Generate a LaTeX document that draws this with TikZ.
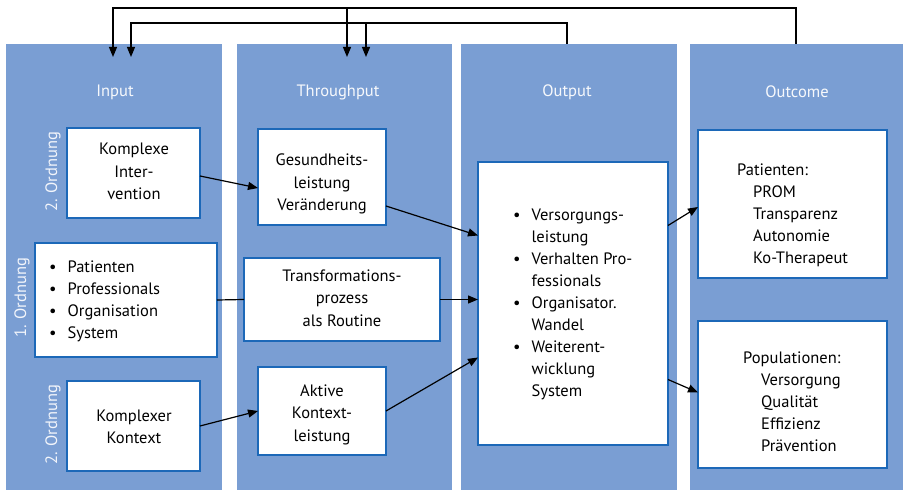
\documentclass[tikz,border=0pt]{standalone}
\usepackage{fontspec}
\setmainfont{PT Sans}
\usetikzlibrary{arrows.meta,fit}
\definecolor{colblue}{RGB}{122,158,211}
\definecolor{boxblue}{RGB}{28,104,184}
\newcommand\fs{\fontsize{16.5}{22.5}\selectfont}
\newcommand\fsl{\fontsize{16.5}{22}\selectfont}
\begin{document}
\begin{tikzpicture}[x=1pt,y=-1pt,
  col/.style={fill=colblue, draw=none, inner sep=0, outer sep=0},
  box/.style={fill=white, draw=boxblue, line width=2.2pt, inner sep=0, outer sep=0},
  ctxt/.style={inner sep=0, font=\fs},
  txt/.style={inner sep=0, font=\fsl},
  hdr/.style={text=white!94!colblue, font=\fs, inner sep=0},
  vlab/.style={text=white!90!colblue, font=\fs, rotate=90, inner sep=0},
  line/.style={line width=1.2pt, black},
  arr/.style={line width=1.2pt, black, -{Triangle[length=10pt,width=8pt]}}]
\useasboundingbox (0,0) rectangle (903,492);
% columns
\node[col, fit={(6,44) (222,490)}] (cin) {};
\node[col, fit={(237,44) (452,490)}] (cth) {};
\node[col, fit={(461,44) (677,490)}] (cout) {};
\node[col, fit={(690,44) (903,490)}] (coc) {};
% headers
\node[hdr] (hin) at (115,92) {Input};
\node[hdr] (hth) at (338,92) {Throughput};
\node[hdr] (hout) at (567,92) {Output};
\node[hdr] (hoc) at (797,92) {Outcome};
% vertical labels
\node[vlab] (v1) at (53,172) {2. Ordnung};
\node[vlab] (v2) at (22,298) {1. Ordnung};
\node[vlab] (v3) at (53,425) {2. Ordnung};
% input boxes
\node[box, fit={(67,128) (200,218)}] (ki) {};
\node[ctxt] (kit) at (134,173) {\begin{tabular}{@{}c@{}}Komplexe\\Inter-\\vention\end{tabular}};
\node[box, fit={(35,243) (217,357)}] (pl) {};
\node[txt, anchor=west] (plt) at (49,301) {\begin{tabular}{@{}l@{\hspace{11pt}}l@{}}\textbullet & Patienten\\ \textbullet & Professionals\\ \textbullet & Organisation\\ \textbullet & System\end{tabular}};
\node[box, fit={(67,381) (200,471)}] (kk) {};
\node[ctxt] (kkt) at (134,428) {\begin{tabular}{@{}c@{}}Komplexer\\Kontext\end{tabular}};
% throughput boxes
\node[box, fit={(258,129) (386,225)}] (gl) {};
\node[ctxt] (glt) at (322,184) {\begin{tabular}{@{}c@{}}Gesundheits-\\leistung\\Veränderung\end{tabular}};
\node[box, fit={(244,258) (440,341)}] (tp) {};
\node[ctxt] (tpt) at (342,299) {\begin{tabular}{@{}c@{}}Transformations-\\prozess\\als Routine\end{tabular}};
\node[box, fit={(258,367) (386,455)}] (ak) {};
\node[ctxt] (akt) at (322,414) {\begin{tabular}{@{}c@{}}Aktive\\Kontext-\\leistung\end{tabular}};
% output box
\node[box, fit={(478,162) (668,445)}] (out) {};
\node[txt, anchor=west] (outt) at (513,304) {\begin{tabular}{@{}l@{\hspace{11pt}}l@{}}\textbullet & Versorgungs-\\ & leistung\\ \textbullet & Verhalten Pro-\\ & fessionals\\ \textbullet & Organisator.\\ & Wandel\\ \textbullet & Weiterent-\\ & wicklung\\ & System\end{tabular}};
% outcome boxes
\node[box, fit={(698,130) (887,278)}] (po) {};
\node[txt, anchor=west] (pot) at (737,215) {\begin{tabular}{@{}l@{}}Patienten:\\ \hspace{16pt}PROM\\ \hspace{16pt}Transparenz\\ \hspace{16pt}Autonomie\\ \hspace{16pt}Ko-Therapeut\end{tabular}};
\node[box, fit={(698,321) (887,468)}] (pp) {};
\node[txt, anchor=west] (ppt) at (743,403) {\begin{tabular}{@{}l@{}}Populationen:\\ \hspace{18pt}Versorgung\\ \hspace{18pt}Qualität\\ \hspace{18pt}Effizienz\\ \hspace{18pt}Prävention\end{tabular}};
% connectors
\draw[arr] ([yshift=-3pt]ki.east) -- ([yshift=-11pt]gl.west);
\draw[arr] ([yshift=-29pt]gl.east) -- ([yshift=68pt]out.west);
\draw[line] (pl.east) -- (tp.west);
\draw[arr] (tp.east) -- (out.west |- tp.east);
\draw[arr] (kk.east) -- (ak.west);
\draw[arr] (ak.east) -- ([yshift=-54pt]out.west);
\draw[arr] ([yshift=78pt]out.east) -- ([yshift=-3pt]po.west);
\draw[arr] ([yshift=-76pt]out.east) -- ([yshift=2pt]pp.west);
% top feedback connectors
\coordinate (o1) at (113,8);
\coordinate (o2) at (796,8);
\coordinate (ob) at (347,8);
\coordinate (i1) at (131,23);
\coordinate (i2) at (567,23);
\coordinate (ib) at (366,23);
\coordinate (tipy) at (0,57);
\draw[arr] (coc.north -| o2) -- (o2) -- (o1) -- (o1 |- tipy);
\draw[arr] (ob) -- (ob |- tipy);
\draw[arr] (cout.north -| i2) -- (i2) -- (i1) -- (i1 |- tipy);
\draw[arr] (ib) -- (ib |- tipy);
\end{tikzpicture}
\end{document}
